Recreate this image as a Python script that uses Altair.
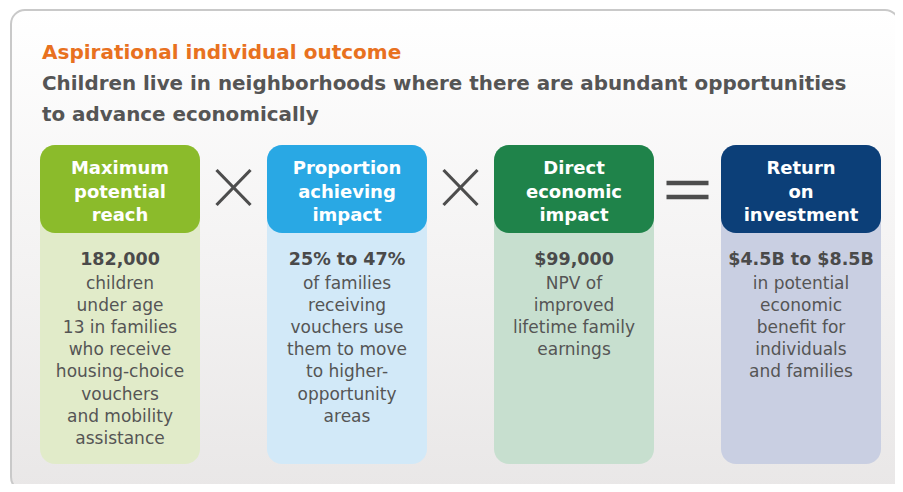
import altair as alt
import pandas as pd

# ---- content ----
title_text = "Aspirational individual outcome"
subtitle_lines = [
    "Children live in neighborhoods where there are abundant opportunities",
    "to advance economically",
]
headers = [
    "Maximum\npotential\nreach",
    "Proportion\nachieving\nimpact",
    "Direct\neconomic\nimpact",
    "Return\non\ninvestment",
]
values = ["182,000", "25% to 47%", "$99,000", "$4.5B to $8.5B"]
descriptions = [
    "children\nunder age\n13 in families\nwho receive\nhousing-choice\nvouchers\nand mobility\nassistance",
    "of families\nreceiving\nvouchers use\nthem to move\nto higher-\nopportunity\nareas",
    "NPV of\nimproved\nlifetime family\nearnings",
    "in potential\neconomic\nbenefit for\nindividuals\nand families",
]
operators = ["×", "×", "="]
header_colors = ["#8bbb2b", "#29a8e4", "#1f834a", "#0c3f78"]
body_colors = ["#e1ebc9", "#d2e9f8", "#c7dfcf", "#c9cfe2"]

FONT = "DejaVu Sans"
X0, Y0 = 8, 8
XMAX, YMAX = 895, 484

def cx(i):
    return 120 + 227 * i

xs = alt.Scale(domain=[X0, XMAX], range=[0, XMAX - X0], nice=False, zero=False)
ys = alt.Scale(domain=[Y0, YMAX], range=[0, YMAX - Y0], nice=False, zero=False)

def X(f):
    return alt.X(f, type="quantitative", scale=xs, axis=None)

def Y(f):
    return alt.Y(f, type="quantitative", scale=ys, axis=None)

# ---- panel ----
panel_df = pd.DataFrame({"x": [11], "x2": [899], "y": [10], "y2": [491]})
panel = alt.Chart(panel_df).mark_rect(
    cornerRadius=14,
    stroke="#c9c9c9",
    strokeWidth=2,
    fill=alt.Gradient(
        gradient="linear",
        stops=[alt.GradientStop(color="#ffffff", offset=0),
               alt.GradientStop(color="#e9e7e7", offset=1)],
        x1=0, x2=0, y1=0, y2=1,
    ),
).encode(x=X("x"), x2="x2", y=Y("y"), y2="y2")

# ---- boxes ----
box_df = pd.DataFrame({
    "x": [cx(i) - 80 for i in range(4)],
    "x2": [cx(i) + 80 for i in range(4)],
    "cx": [cx(i) for i in range(4)],
    "header": headers,
    "value": values,
    "desc": descriptions,
    "hc": header_colors,
    "bc": body_colors,
    "top": [145] * 4,
    "hbot": [233] * 4,
    "bot": [464] * 4,
})

bodies = alt.Chart(box_df).mark_rect(cornerRadius=15).encode(
    x=X("x"), x2="x2", y=Y("top"), y2="bot",
    fill=alt.Fill("bc:N", scale=None),
)
heads = alt.Chart(box_df).mark_rect(cornerRadius=15).encode(
    x=X("x"), x2="x2", y=Y("top"), y2="hbot",
    fill=alt.Fill("hc:N", scale=None),
)
box_df["htop"] = 160
box_df["vtop"] = 251
box_df["dtop"] = 276

head_text = alt.Chart(box_df).mark_text(
    font=FONT, fontWeight="bold", fontSize=18, color="white",
    baseline="top", align="center", lineBreak="\n", lineHeight=23.5,
).encode(x=X("cx"), y=Y("htop"), text="header:N")

value_text = alt.Chart(box_df).mark_text(
    font=FONT, fontWeight="bold", fontSize=17.5, color="#4a4a4a",
    baseline="top", align="center",
).encode(x=X("cx"), y=Y("vtop"), text="value:N")

desc_text = alt.Chart(box_df).mark_text(
    font=FONT, fontSize=17, color="#555555",
    baseline="top", align="center", lineBreak="\n", lineHeight=22.1,
).encode(x=X("cx"), y=Y("dtop"), text="desc:N")

# ---- operators ----
rows = []
for k, op in enumerate(operators):
    c = cx(k) + 113.5
    if op == "×":
        rows.append({"x": c - 17, "x2": c + 17, "y": 170, "y2": 205, "w": 3.2})
        rows.append({"x": c - 17, "x2": c + 17, "y": 205, "y2": 170, "w": 3.2})
    else:
        rows.append({"x": c - 21, "x2": c + 21, "y": 183, "y2": 183, "w": 4.5})
        rows.append({"x": c - 21, "x2": c + 21, "y": 197, "y2": 197, "w": 4.5})
op_df = pd.DataFrame(rows)
ops = alt.Chart(op_df).mark_rule(color="#4d4d4d").encode(
    x=X("x"), x2="x2", y=Y("y"), y2="y2",
    strokeWidth=alt.StrokeWidth("w:Q", scale=None),
)

# ---- titles ----
t_df = pd.DataFrame({"x": [42], "y": [53], "t": [title_text]})
title = alt.Chart(t_df).mark_text(
    font=FONT, fontWeight="bold", fontSize=20, color="#e8711f",
    baseline="middle", align="left",
).encode(x=X("x"), y=Y("y"), text="t:N")

s_df = pd.DataFrame({"x": [42, 42], "y": [84, 115], "t": subtitle_lines})
subtitle = alt.Chart(s_df).mark_text(
    font=FONT, fontWeight="bold", fontSize=19.9, color="#555555",
    baseline="middle", align="left",
).encode(x=X("x"), y=Y("y"), text="t:N")

chart = alt.layer(
    panel, bodies, heads, head_text, value_text, desc_text, ops, title, subtitle
).properties(
    width=XMAX - X0, height=YMAX - Y0, padding=0,
    autosize=alt.AutoSizeParams(type="none"),
    background="white",
).configure_view(stroke=None)

chart.save("out.html", embed_options={"renderer": "svg", "actions": False})
